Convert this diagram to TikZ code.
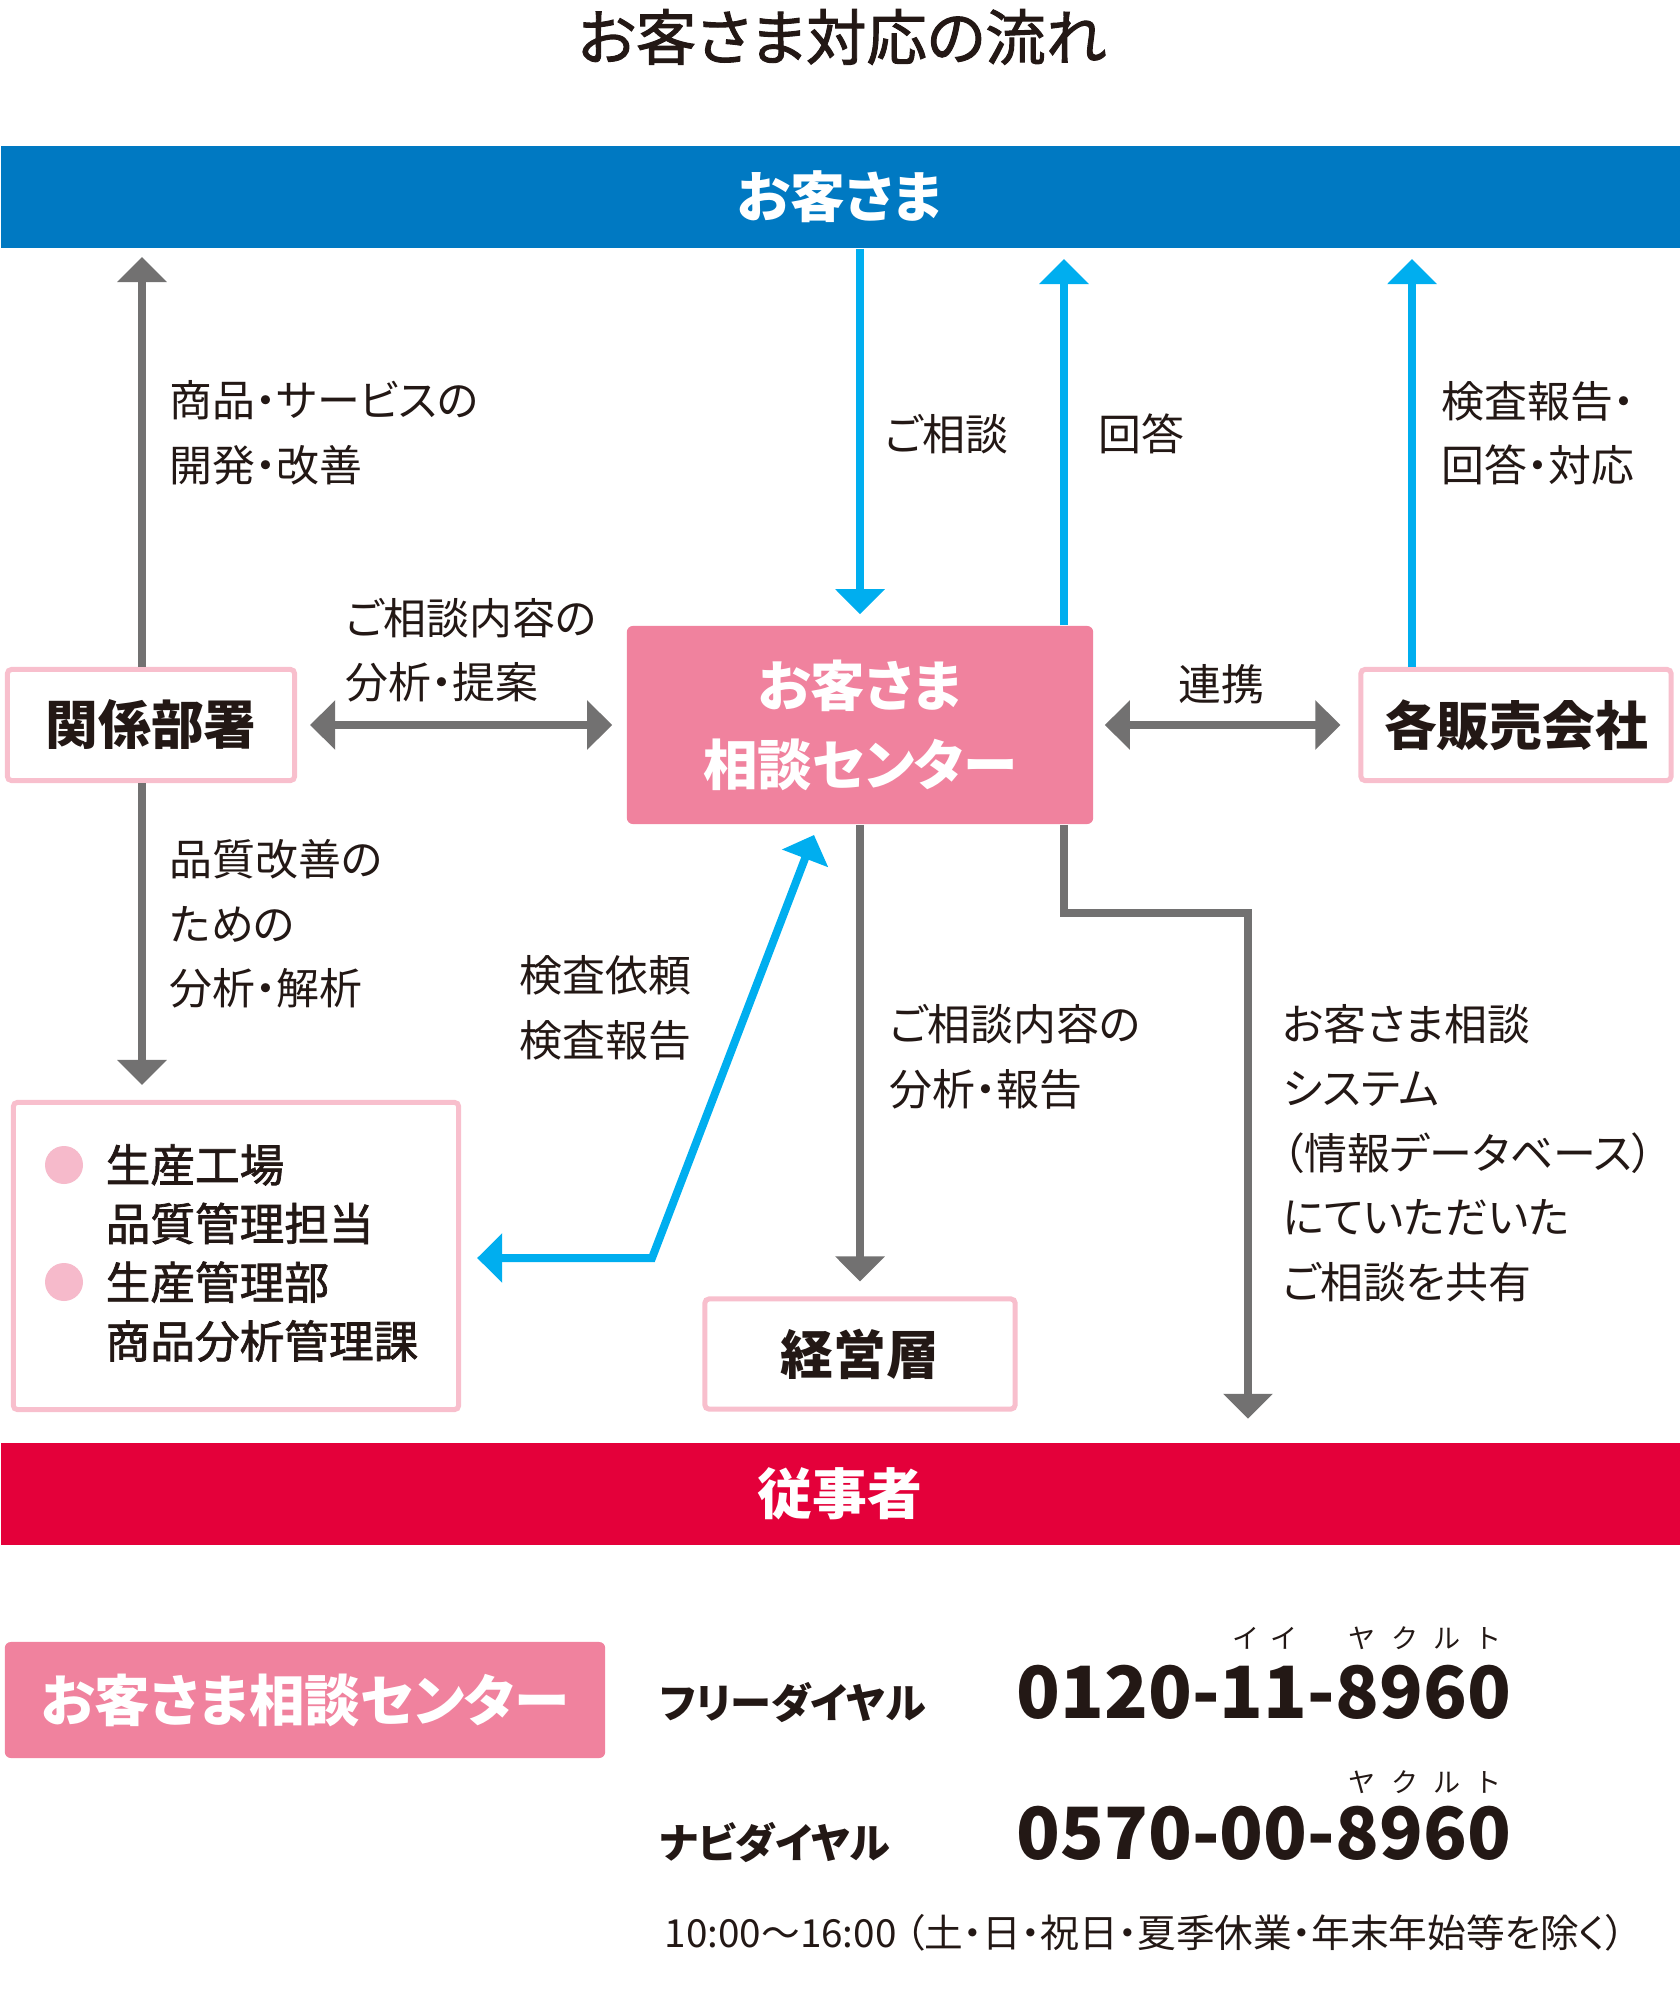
\documentclass[tikz,border=0pt]{standalone}
\usepackage{fontspec}
\setmainfont{Noto Sans CJK JP}[RawFeature=+palt]
\newfontfamily\midfont{Noto Sans CJK JP}[RawFeature=+palt, FakeBold=1.6]
\usetikzlibrary{arrows.meta}

\definecolor{barblue}{RGB}{0,121,194}
\definecolor{lineblue}{RGB}{0,174,239}
\definecolor{linegray}{RGB}{114,113,113}
\definecolor{boxpink}{RGB}{240,130,158}
\definecolor{framepink}{RGB}{248,191,205}
\definecolor{dotpink}{RGB}{246,186,203}
\definecolor{barred}{RGB}{228,0,58}
\definecolor{inkblack}{RGB}{35,24,21}

\newcommand\titlesize{\fontsize{17.2}{20}\selectfont\midfont}
\newcommand\boxsize{\fontsize{15}{22.5}\selectfont\bfseries}
\newcommand\lblsize{\fontsize{12.2}{18.35}\selectfont}
\newcommand\listsize{\fontsize{12.7}{16.7}\selectfont\midfont}

\tikzset{
  framebox/.style={draw=framepink, line width=0.05cm, fill=white, rounded corners=0.04cm},
  rubytext/.style={font=\fontsize{7.7}{9}\selectfont, inner sep=0}
}

\begin{document}
\begin{tikzpicture}[x=0.01cm, y=-0.01cm, text=inkblack]
\useasboundingbox (0,0) rectangle (1680,2000);

\node[font=\titlesize] (0) at (842,37) {お客さま対応の流れ};

\begin{scope}[every node/.style={inner sep=0, font=\boxsize}]
    \node[fill=barblue, text=white, font=\fontsize{15.6}{20}\selectfont\bfseries,
          minimum width=16.78cm, minimum height=1.02cm] (1) at (840,197) {お客さま};
    \node[fill=boxpink, text=white, rounded corners=0.06cm, align=center,
          font=\fontsize{15.5}{22.5}\selectfont\bfseries,
          minimum width=4.66cm, minimum height=1.98cm] (2) at (860,725) {お客さま\\相談センター};
    \node[framebox, minimum width=2.87cm, minimum height=1.11cm] (3) at (151,725) {関係部署};
    \node[framebox, minimum width=3.10cm, minimum height=1.11cm] (4) at (1516,725) {各販売会社};
    \node[framebox, minimum width=4.45cm, minimum height=3.07cm] (5) at (236,1256) {};
    \node[framebox, minimum width=3.10cm, minimum height=1.10cm] (6) at (860,1354) {経営層};
    \node[fill=barred, text=white, font=\fontsize{15.6}{20}\selectfont\bfseries,
          minimum width=16.78cm, minimum height=1.01cm] (7) at (840,1494) {従事者};
    \node[fill=boxpink, text=white, rounded corners=0.06cm, font=\fontsize{15.8}{20}\selectfont\bfseries,
          minimum width=6.00cm, minimum height=1.16cm] (8) at (305,1700) {お客さま相談センター};
\end{scope}

\fill[dotpink] (64,1165) circle[radius=19];
\fill[dotpink] (64,1282) circle[radius=19];
\node[font=\listsize, align=left, anchor=west, inner sep=0] (5a) at (105,1253)
    {生産工場\\品質管理担当\\生産管理部\\商品分析管理課};

\begin{scope}[every node/.style={font=\lblsize, align=left, anchor=west, inner sep=0}]
    \node (l1)  at (169,433)  {商品・サービスの\\開発・改善};
    \node (l2)  at (884,434)  {ご相談};
    \node (l3)  at (1098,434) {回答};
    \node (l4)  at (1441,433) {検査報告・\\回答・対応};
    \node (l5)  at (345,650)  {ご相談内容の\\分析・提案};
    \node (l6)  at (1178,684) {連携};
    \node (l7)  at (169,924)  {品質改善の\\ための\\分析・解析};
    \node (l8)  at (519,1008) {検査依頼\\検査報告};
    \node (l9)  at (889,1057) {ご相談内容の\\分析・報告};
    \node (l10) at (1282,1153) {お客さま相談\\システム\\（情報データベース）\\にていただいた\\ご相談を共有};
\end{scope}

\begin{scope}[>={Triangle[length=0.25cm,width=0.48cm]},
              every edge/.style={draw, line width=0.08cm}]
    \coordinate (k1) at (142,257);
    \coordinate (k2) at (142,1085);
    \coordinate (u1) at (1064,259);
    \coordinate (u2) at (1412,259);
    \coordinate (t1) at (814,835);
    \coordinate (t2) at (652,1258);
    \coordinate (s1) at (1248,913);

    \path [->] (3.north -| k1) edge[linegray] (k1);
    \path [->] (3.south -| k2) edge[linegray] (k2);
    \path [->] (1.south -| 2) edge[lineblue, shorten >=0.11cm] (2);
    \path [->] (2.north -| u1) edge[lineblue] (u1);
    \path [->] (4.north -| u2) edge[lineblue] (u2);
    \path [<->] (3) edge[linegray, shorten <=0.13cm, shorten >=0.14cm] (2);
    \path [<->] (2) edge[linegray, shorten <=0.11cm, shorten >=0.18cm] (4);
    \path [->] (2) edge[linegray, shorten >=0.15cm] (6);

    \draw [<->, lineblue, line width=0.08cm, shorten >=0.16cm] (t1) -- (t2) -- (5.east |- t2);
    \draw [->, linegray, line width=0.08cm, shorten >=0.24cm] (2.south -| u1) |- (s1) -- (s1 |- 7.north);
\end{scope}

\begin{scope}[every node/.style={anchor=west, inner sep=0}]
    \node[font=\fontsize{11.7}{14}\selectfont\bfseries] (f1) at (659,1703) {フリーダイヤル};
    \node[font=\fontsize{20.5}{24}\selectfont\bfseries] (n1) at (1016,1692) {0120-11-8960};
    \node[font=\fontsize{11.7}{14}\selectfont\bfseries] (f2) at (659,1843) {ナビダイヤル};
    \node[font=\fontsize{20.5}{24}\selectfont\bfseries] (n2) at (1016,1833) {0570-00-8960};
    \node[font=\fontsize{11}{14}\selectfont] (h1) at (664,1933) {10:00〜16:00 （土・日・祝日・夏季休業・年末年始等を除く）};
\end{scope}

\node[rubytext] (r1) at (1264,1638) {イ\hspace{0.14cm}イ};
\node[rubytext] (r2) at (1424,1638) {ヤ\hspace{0.18cm}ク\hspace{0.18cm}ル\hspace{0.18cm}ト};
\node[rubytext] (r3) at (1424,1782) {ヤ\hspace{0.18cm}ク\hspace{0.18cm}ル\hspace{0.18cm}ト};
\end{tikzpicture}
\end{document}
